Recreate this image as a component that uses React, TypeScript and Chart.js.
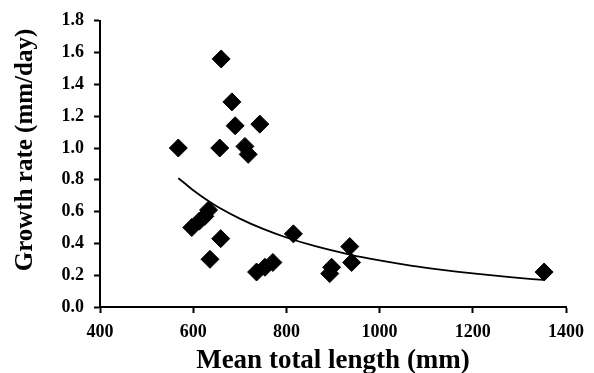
import React, { useEffect, useRef } from "react";
import { Chart, registerables } from "chart.js";

Chart.register(...registerables);

// Scatter observations: mean total length (mm) vs growth rate (mm/day)
const lengths = [568, 660, 683, 690, 743, 657, 711, 718, 597, 613, 625, 633, 659, 636, 736, 754, 771, 815, 936, 940, 897, 893, 1353];
const rates = [1.0, 1.56, 1.29, 1.14, 1.15, 1.0, 1.01, 0.96, 0.5, 0.54, 0.57, 0.61, 0.43, 0.3, 0.22, 0.25, 0.28, 0.46, 0.38, 0.28, 0.25, 0.21, 0.22];

// Trend curve
const trendX = [568, 585, 600, 620, 636, 660, 700, 750, 800, 860, 936, 1000, 1070, 1130, 1200, 1280, 1351];
const trendY = [0.81, 0.77, 0.734, 0.692, 0.661, 0.618, 0.556, 0.491, 0.437, 0.384, 0.33, 0.293, 0.259, 0.235, 0.211, 0.188, 0.17];

const xTicks = [400, 600, 800, 1000, 1200, 1400];
const yTicks = [0, 0.2, 0.4, 0.6, 0.8, 1.0, 1.2, 1.4, 1.6, 1.8];

const xTitle = "Mean total length (mm)";
const yTitle = "Growth rate (mm/day)";

const FONT = "'Liberation Serif', 'Times New Roman', serif";

export default function App() {
  const ref = useRef<HTMLCanvasElement | null>(null);

  useEffect(() => {
    if (!ref.current) return;
    const yTitlePlugin = {
      id: "yTitlePlugin",
      afterDraw(chart: any) {
        const ctx = chart.ctx;
        ctx.save();
        ctx.translate(26, 150);
        ctx.rotate(-Math.PI / 2);
        ctx.font = `bold 25px ${FONT}`;
        ctx.fillStyle = "#000";
        ctx.textAlign = "center";
        ctx.textBaseline = "middle";
        ctx.fillText(yTitle, 0, 0);
        ctx.restore();
      },
    };

    const chart = new Chart(ref.current, {
      type: "scatter",
      data: {
        datasets: [
          {
            label: "trend",
            type: "line",
            data: trendX.map((x, i) => ({ x, y: trendY[i] })),
            borderColor: "#000",
            borderWidth: 1.8,
            pointRadius: 0,
            fill: false,
            cubicInterpolationMode: "monotone",
            order: 2,
          } as any,
          {
            label: "obs",
            data: lengths.map((x, i) => ({ x, y: rates[i] })),
            pointStyle: "rectRot",
            pointRadius: 9,
            pointBorderWidth: 1,
            backgroundColor: "#000",
            borderColor: "#000",
            order: 1,
          },
        ],
      },
      options: {
        responsive: false,
        animation: false,
        layout: { padding: { top: 20, right: 28, bottom: 0, left: 0 } },
        plugins: {
          legend: { display: false },
          tooltip: { enabled: false },
        },
        scales: {
          x: {
            type: "linear",
            min: 400,
            max: 1400,
            afterBuildTicks: (s: any) => {
              s.ticks = xTicks.map((v) => ({ value: v }));
            },
            afterFit: (s: any) => {
              s.height = 66;
            },
            ticks: {
              color: "#000",
              font: { family: FONT, size: 18, weight: "bold" },
              padding: 9,
              maxRotation: 0,
              autoSkip: false,
              callback: (v: any) => String(v),
            },
            grid: {
              drawOnChartArea: false,
              drawTicks: true,
              tickLength: 6,
              tickWidth: 2,
              tickColor: "#000",
            },
            border: { color: "#000", width: 2 },
            title: {
              display: true,
              text: xTitle,
              color: "#000",
              font: { family: FONT, size: 27, weight: "bold", lineHeight: 1 },
              padding: { top: 0, bottom: -2 },
            },
          },
          y: {
            type: "linear",
            min: 0,
            max: 1.8,
            afterBuildTicks: (s: any) => {
              s.ticks = yTicks.map((v) => ({ value: v }));
            },
            afterFit: (s: any) => {
              s.width = 100;
            },
            ticks: {
              color: "#000",
              font: { family: FONT, size: 18, weight: "bold" },
              padding: 10,
              autoSkip: false,
              callback: (v: any) => Number(v).toFixed(1),
            },
            grid: {
              drawOnChartArea: false,
              drawTicks: true,
              tickLength: 6,
              tickWidth: 2,
              tickColor: "#000",
            },
            border: { color: "#000", width: 2 },
          },
        },
      },
      plugins: [yTitlePlugin],
    });
    return () => chart.destroy();
  }, []);

  return (
    <div style={{ position: "fixed", left: 0, top: 0, width: 594, height: 373, background: "#fff" }}>
      <canvas ref={ref} width={594} height={373} style={{ display: "block" }} />
    </div>
  );
}
